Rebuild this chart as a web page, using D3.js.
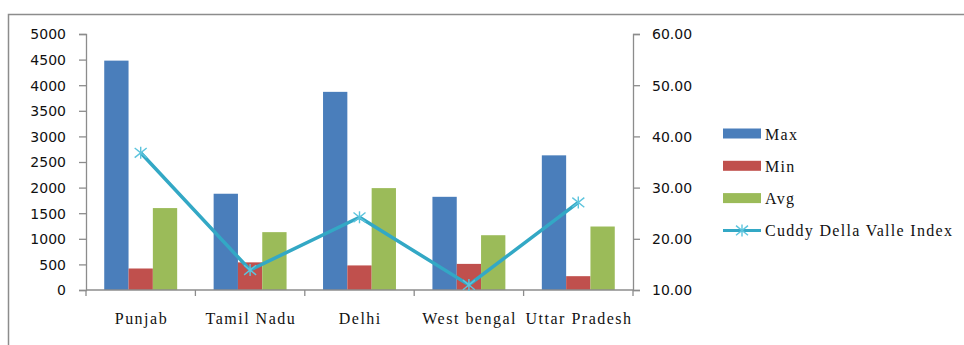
<!DOCTYPE html>
<html>
<head>
<meta charset="utf-8">
<script src="https://cdn.jsdelivr.net/npm/d3@7"></script>
<style>
  html, body { margin: 0; padding: 0; background: #fff; }
</style>
</head>
<body>
<script>
// Price spread by state, with the Cuddy Della Valle instability index on a second axis
const states = ["Punjab", "Tamil Nadu", "Delhi", "West bengal", "Uttar Pradesh"];
const maxValues = [4480, 1880, 3870, 1820, 2630];
const minValues = [420, 540, 480, 510, 270];
const avgValues = [1600, 1130, 1990, 1070, 1240];
const cdvIndex = [36.8, 13.9, 24.2, 11.0, 27.1];
const leftTicks = [0, 500, 1000, 1500, 2000, 2500, 3000, 3500, 4000, 4500, 5000];
const rightTicks = [10, 20, 30, 40, 50, 60];

const barSeries = [
  { name: "Max", values: maxValues, color: "#4a7ebb" },
  { name: "Min", values: minValues, color: "#c0504d" },
  { name: "Avg", values: avgValues, color: "#9bbb59" }
];
const lineName = "Cuddy Della Valle Index";
const lineColor = "#33a8c5";
const markerColor = "#5cc4dd";

const SERIF = "Liberation Serif";
const SANS = "DejaVu Sans";

const W = 964, H = 345;
const plot = { left: 86, right: 633, top: 34, bottom: 290 };

const svg = d3.select("body").append("svg")
  .attr("width", W).attr("height", H).style("display", "block");

// outer chart frame
svg.append("rect")
  .attr("x", 8.5).attr("y", 14.5)
  .attr("width", W + 10).attr("height", H + 10)
  .attr("fill", "none").attr("stroke", "#8c8c8c").attr("stroke-width", 1.5);

const x = d3.scaleBand().domain(states).range([plot.left, plot.right]).paddingInner(0).paddingOuter(0);
const groupPad = 0.75; // gap each side, in bar widths
const barW = x.bandwidth() / (barSeries.length + 2 * groupPad);
const xs = d3.scaleBand().domain(barSeries.map(s => s.name))
  .range([barW * groupPad, x.bandwidth() - barW * groupPad]).padding(0);

const yL = d3.scaleLinear().domain([0, 5000]).range([plot.bottom, plot.top]);
const yR = d3.scaleLinear().domain([10, 60]).range([plot.bottom, plot.top]);

const axisColor = "#8c8c8c";

// loosen serif labels a little by stretching the gaps between glyphs
function spread(sel, px) {
  sel.each(function () {
    const n = this.textContent.length;
    const w = this.getComputedTextLength();
    d3.select(this).attr("textLength", w + (n - 1) * px).attr("lengthAdjust", "spacing");
  });
}

// bars
barSeries.forEach(s => {
  svg.append("g").selectAll("rect")
    .data(states.map((st, i) => ({ st, v: s.values[i] })))
    .join("rect")
    .attr("x", d => x(d.st) + xs(s.name))
    .attr("y", d => yL(d.v))
    .attr("width", xs.bandwidth())
    .attr("height", d => yL(0) - yL(d.v))
    .attr("fill", s.color);
});

// left axis
const gL = svg.append("g").attr("transform", `translate(${plot.left},0)`)
  .call(d3.axisLeft(yL).tickValues(leftTicks).tickSize(7).tickPadding(13).tickFormat(d3.format("d")));
// right axis
const gR = svg.append("g").attr("transform", `translate(${plot.right},0)`)
  .call(d3.axisRight(yR).tickValues(rightTicks).tickSize(7).tickPadding(12).tickFormat(d3.format(".2f")));
// category axis with ticks at band boundaries
const gX = svg.append("g").attr("transform", `translate(0,${plot.bottom})`);
gX.append("line").attr("x1", plot.left).attr("x2", plot.right)
  .attr("stroke", axisColor).attr("stroke-width", 1.3);
const bounds = states.map(s => x(s)).concat([plot.right]);
gX.selectAll("line.tk").data(bounds).join("line").attr("class", "tk")
  .attr("x1", d => d).attr("x2", d => d).attr("y1", 0).attr("y2", 6)
  .attr("stroke", axisColor).attr("stroke-width", 1.3);
gX.selectAll("text").data(states).join("text")
  .attr("x", d => x(d) + x.bandwidth() / 2)
  .attr("y", 34)
  .attr("text-anchor", "middle")
  .style("font-family", SERIF)
  .style("font-size", "16px")
  .attr("fill", "#111")
  .text(d => d)
  .call(spread, 1.5);

[gL, gR].forEach(g => {
  g.attr("font-family", null).attr("font-size", null);
  g.select(".domain").attr("stroke", axisColor).attr("stroke-width", 1.3);
  g.selectAll(".tick line").attr("stroke", axisColor).attr("stroke-width", 1.3);
  g.selectAll(".tick text")
    .style("font-family", SANS).style("font-size", "14px")
    .attr("fill", "#111").attr("dy", "0.35em");
});

// index line
const pts = states.map((st, i) => [x(st) + x.bandwidth() / 2, yR(cdvIndex[i])]);
svg.append("path")
  .attr("d", d3.line()(pts))
  .attr("fill", "none").attr("stroke", lineColor).attr("stroke-width", 3.5)
  .attr("stroke-linejoin", "round");

function star(g, cx, cy, r) {
  // asterisk: diagonal cross plus vertical stroke
  [[-r, -r * 0.8, r, r * 0.8], [-r, r * 0.8, r, -r * 0.8], [0, -r, 0, r]].forEach(s =>
    g.append("line")
      .attr("x1", cx + s[0]).attr("y1", cy + s[1]).attr("x2", cx + s[2]).attr("y2", cy + s[3])
      .attr("stroke", markerColor).attr("stroke-width", 1.4));
}
const gm = svg.append("g");
pts.forEach(p => star(gm, p[0], p[1], 6));

// legend
const legend = svg.append("g");
const legX = 723, legY0 = 133.5, legStep = 32.3;
barSeries.forEach((s, i) => {
  const cy = legY0 + i * legStep;
  legend.append("rect").attr("x", legX).attr("y", cy - 5).attr("width", 38).attr("height", 10).attr("fill", s.color);
  legend.append("text").attr("x", legX + 42).attr("y", cy + 6)
    .style("font-family", SERIF).style("font-size", "16px")
    .attr("fill", "#111").text(s.name)
    .call(spread, 1.3);
});
{
  const cy = legY0 + 3 * legStep;
  legend.append("line").attr("x1", legX).attr("x2", legX + 38).attr("y1", cy).attr("y2", cy)
    .attr("stroke", lineColor).attr("stroke-width", 3);
  star(legend, legX + 19, cy, 6);
  legend.append("text").attr("x", legX + 42).attr("y", cy + 6)
    .style("font-family", SERIF).style("font-size", "16px")
    .attr("fill", "#111").text(lineName)
    .call(spread, 1.3);
}
</script>
</body>
</html>
